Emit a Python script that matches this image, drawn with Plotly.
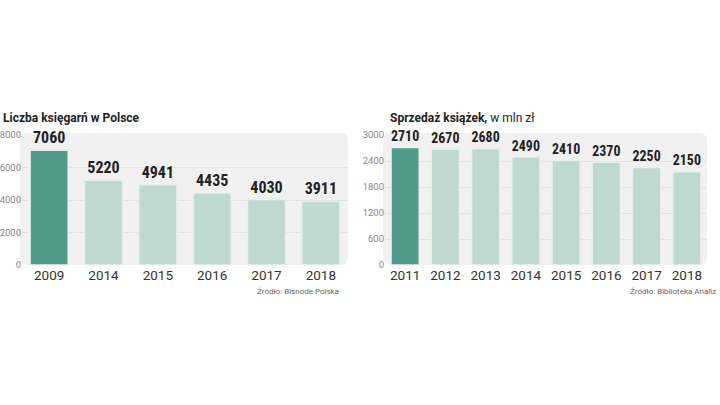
import plotly.graph_objects as go

# Data
years_left = ["2009", "2014", "2015", "2016", "2017", "2018"]
shops = [7060, 5220, 4941, 4435, 4030, 3911]
years_right = ["2011", "2012", "2013", "2014", "2015", "2016", "2017", "2018"]
sales = [2710, 2670, 2680, 2490, 2410, 2370, 2250, 2150]

title_left = "<b>Liczba księgarń w Polsce</b>"
title_right = "<b>Sprzedaż książek,</b> w mln zł"
source_left = "Źródło: Bisnode Polska"
source_right = "Źródło: Biblioteka Analiz"

DARK = "#4f9a89"
LIGHT = "#bfd9d1"
EDGE = "#e6f0ed"

W, H = 720, 405
def px(x):
    return x / W
def py(y):
    return 1 - y / H

fig = go.Figure()

def colors(n):
    return [DARK] + [LIGHT] * (n - 1)

valfont = dict(family="Roboto Condensed, Liberation Sans Narrow, DejaVu Sans Condensed, Roboto",
               size=16, color="#222222", weight="bold")

fig.add_trace(go.Bar(
    x=years_left, y=shops, xaxis="x", yaxis="y",
    marker=dict(color=colors(len(shops)), line=dict(color=EDGE, width=1.5)),
    width=0.7,
    text=[str(v) for v in shops], textposition="outside", cliponaxis=False,
    textfont=valfont, hoverinfo="skip",
))
fig.add_trace(go.Bar(
    x=years_right, y=sales, xaxis="x2", yaxis="y2",
    marker=dict(color=colors(len(sales)), line=dict(color=EDGE, width=1.5)),
    width=0.7,
    text=[str(v) for v in sales], textposition="outside", cliponaxis=False,
    textfont=valfont, hoverinfo="skip",
))

ytop, ybot = 135, 265
L1, R1 = 22, 348
L2, R2 = 385, 707

def rounded(x0, y0, x1, y1, r):
    X0, X1 = px(x0), px(x1)
    Y0, Y1 = py(y0), py(y1)
    rx, ry = r / W, r / H
    return (f"M {X0+rx},{Y0} L {X1-rx},{Y0} Q {X1},{Y0} {X1},{Y0-ry} "
            f"L {X1},{Y1+ry} Q {X1},{Y1} {X1-rx},{Y1} L {X0+rx},{Y1} "
            f"Q {X0},{Y1} {X0},{Y1+ry} L {X0},{Y0-ry} Q {X0},{Y0} {X0+rx},{Y0} Z")

shapes = [
    dict(type="path", xref="paper", yref="paper", path=rounded(L1 - 2, ytop - 2, R1, ybot, 8),
         fillcolor="#f1f1f1", line=dict(width=0), layer="below"),
    dict(type="path", xref="paper", yref="paper", path=rounded(L2 - 2, ytop - 2, R2, ybot, 8),
         fillcolor="#f1f1f1", line=dict(width=0), layer="below"),
]

tickfont = dict(family="Roboto, Open Sans", size=9.5, color="#8a8a8a")
xfont = dict(family="Roboto, Open Sans", size=13.5, color="#333333")

fig.update_layout(
    width=W, height=H,
    margin=dict(l=0, r=0, t=0, b=0),
    paper_bgcolor="white", plot_bgcolor="rgba(0,0,0,0)",
    showlegend=False, bargap=0.3,
    shapes=shapes,
    xaxis=dict(domain=[px(L1), px(R1)], anchor="y", tickfont=xfont, showgrid=False,
               ticks="", showline=False, fixedrange=True, automargin=False),
    yaxis=dict(domain=[py(ybot), py(ytop)], anchor="x", range=[0, 8000], tickvals=[0, 2000, 4000, 6000, 8000],
               tickfont=tickfont, gridcolor="#e2e2e2", gridwidth=1, zeroline=False, showline=False,
               ticklabelstandoff=0, fixedrange=True, automargin=False),
    xaxis2=dict(domain=[px(L2), px(R2)], anchor="y2", tickfont=xfont, showgrid=False,
                ticks="", showline=False, fixedrange=True, automargin=False),
    yaxis2=dict(domain=[py(ybot), py(ytop)], anchor="x2", range=[0, 3000], tickvals=[0, 600, 1200, 1800, 2400, 3000],
                tickfont=tickfont, gridcolor="#e2e2e2", gridwidth=1, zeroline=False, showline=False,
                ticklabelstandoff=0, fixedrange=True, automargin=False),
    annotations=[
        dict(text=title_left, x=px(1), y=py(118), xref="paper", yref="paper", xanchor="left", yanchor="middle",
             showarrow=False, font=dict(family="Roboto", size=12, color="#222222")),
        dict(text=title_right, x=px(388), y=py(118), xref="paper", yref="paper", xanchor="left", yanchor="middle",
             showarrow=False, font=dict(family="Roboto", size=12, color="#222222")),
        dict(text=source_left, x=px(341), y=py(291), xref="paper", yref="paper", xanchor="right", yanchor="middle",
             showarrow=False, font=dict(family="Roboto", size=8, color="#666666")),
        dict(text=source_right, x=px(718), y=py(291), xref="paper", yref="paper", xanchor="right", yanchor="middle",
             showarrow=False, font=dict(family="Roboto", size=8, color="#666666")),
    ],
)

fig.write_html("out.html", config={"displayModeBar": False},
               post_script="document.body.style.margin='0';document.body.style.overflow='hidden';")
